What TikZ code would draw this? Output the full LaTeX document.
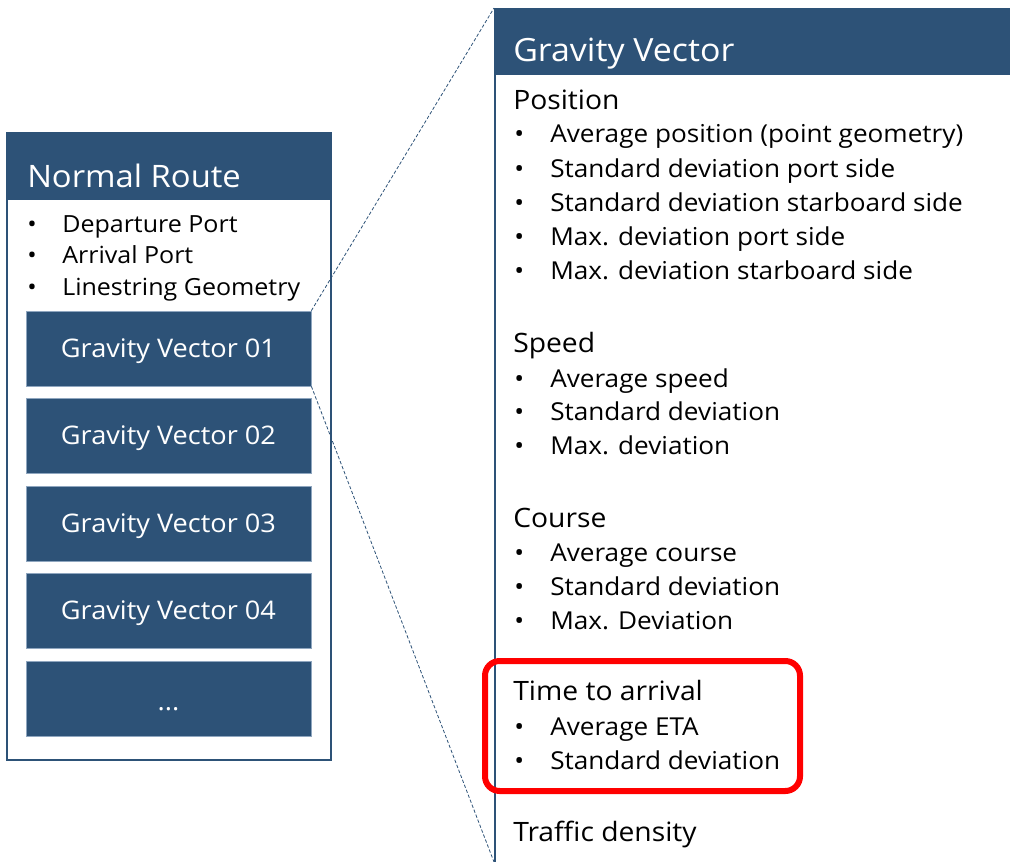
\documentclass[tikz,border=0pt]{standalone}
\usepackage{fontspec}
\setmainfont{Open Sans}[FakeStretch=1.06]
\definecolor{navy}{HTML}{2D5277}
\definecolor{navyedge}{HTML}{8FA6BF}
\begin{document}
\begin{tikzpicture}[x=0.75pt,y=-0.75pt,
  hdrtext/.style={anchor=base west,text=white,inner sep=0pt},
  lbul/.style={anchor=base west,text=black,font=\fontsize{17.7}{21}\selectfont,inner sep=0pt},
  rhead/.style={anchor=base west,text=black,font=\fontsize{20}{24}\selectfont,inner sep=0pt},
  rbul/.style={anchor=base west,text=black,font=\fontsize{18.5}{22}\selectfont,inner sep=0pt},
  gvbox/.style={rectangle,fill=navy,draw=navyedge,line width=0.6pt,minimum width=213.75pt,minimum height=56.25pt,inner sep=0pt,text=white,text depth=0pt,font=\fontsize{19.2}{22}\selectfont},
  link/.style={draw=navy,line width=0.6pt,dash pattern=on 2.5pt off 1.5pt}]
\useasboundingbox (0,0) rectangle (1010,862);
\clip (0,0) rectangle (1010,862);
% left box
\node[rectangle,draw=navy,line width=1.6pt,fill=white,minimum width=243pt,minimum height=470.25pt,inner sep=0pt] (left) at (169,446.5) {};
\node[rectangle,fill=navy,minimum width=243pt,minimum height=50.25pt,inner sep=0pt] (lhead) at (169,166.5) {};
\node[hdrtext,font=\fontsize{23.2}{27}\selectfont] (ltitle) at (27,188) {Normal Route};
\node[lbul] (lb1d) at (27,233) {•};
\node[lbul] (lb1) at (62,233) {Departure Port};
\node[lbul] (lb2d) at (27,264) {•};
\node[lbul] (lb2) at (62,264) {Arrival Port};
\node[lbul] (lb3d) at (27,296) {•};
\node[lbul] (lb3) at (62,296) {Linestring Geometry};
\node[gvbox] (gv1) at (168.5,348.5) {Gravity Vector 01};
\node[gvbox] (gv2) at (168.5,435.5) {Gravity Vector 02};
\node[gvbox] (gv3) at (168.5,523.5) {Gravity Vector 03};
\node[gvbox] (gv4) at (168.5,610.5) {Gravity Vector 04};
\node[gvbox] (gv5) at (168.5,698.5) {};
\node[text=white,font=\fontsize{19.2}{22}\selectfont,inner sep=0pt,anchor=base] (gv5t) at (168.5,710) {...};
% right panel
\node[rectangle,draw=navy,line width=1.6pt,fill=white,minimum width=390pt,minimum height=645pt,inner sep=0pt,anchor=north west] (panel) at (494,8) {};
\node[rectangle,fill=navy,minimum width=390pt,minimum height=50.25pt,inner sep=0pt,anchor=north west] (phead) at (494,8) {};
\node[hdrtext,font=\fontsize{24}{28}\selectfont] (ptitle) at (513,62) {Gravity Vector};
\coordinate (pbot) at (494,862);
% content
\node[rhead] (h1) at (513,109.5) {Position};
\foreach \y/\t [count=\i] in {142.5/Average position (point geometry),177.5/Standard deviation port side,211.5/Standard deviation starboard side,245.5/Max. deviation port side,279.5/Max. deviation starboard side}{
  \node[rbul] (p\i d) at (514,\y) {•};
  \node[rbul] (p\i) at (550,\y) {\t};
}
\node[rhead] (h2) at (513,352.5) {Speed};
\foreach \y/\t [count=\i] in {387.5/Average speed,420.5/Standard deviation,454.5/Max. deviation}{
  \node[rbul] (s\i d) at (514,\y) {•};
  \node[rbul] (s\i) at (550,\y) {\t};
}
\node[rhead] (h3) at (513,527.5) {Course};
\foreach \y/\t [count=\i] in {561.5/Average course,595.5/Standard deviation,629.5/Max. Deviation}{
  \node[rbul] (c\i d) at (514,\y) {•};
  \node[rbul] (c\i) at (550,\y) {\t};
}
\node[rhead] (h4) at (513,700.5) {Time to arrival};
\foreach \y/\t [count=\i] in {735.5/Average ETA,769.5/Standard deviation}{
  \node[rbul] (t\i d) at (514,\y) {•};
  \node[rbul] (t\i) at (550,\y) {\t};
}
\node[rhead] (h5) at (513,841.5) {Traffic density};
% highlight
\node[rectangle,rounded corners=11pt,draw=red,line width=4.5pt,minimum width=236.25pt,minimum height=97.5pt,inner sep=0pt] (hl) at (642.5,726) {};
% links
\draw[link] (gv1.north east) -- (panel.north west);
\draw[link] (gv1.south east) -- (pbot);
\end{tikzpicture}
\end{document}
